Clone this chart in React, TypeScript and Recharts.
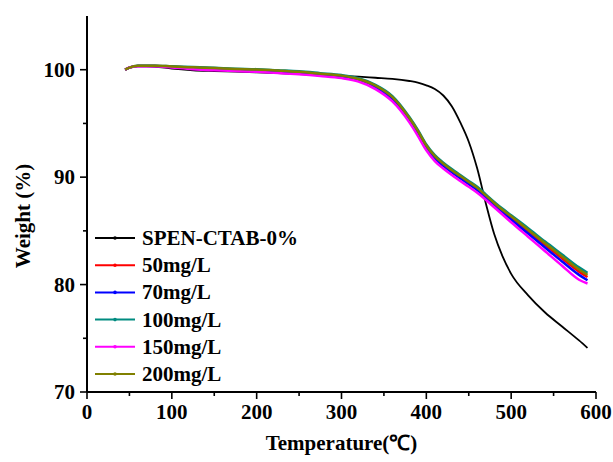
import React from "react";
import {
  LineChart,
  Line,
  XAxis,
  YAxis,
  Legend,
} from "recharts";

// TGA weight-loss curves, temperature in °C, weight in %
const temps = [
  45, 50, 60, 80, 100, 125, 150, 175, 200, 225, 250, 275, 300, 320, 340, 360,
  380, 390, 400, 410, 420, 430, 440, 450, 460, 470, 480, 490, 500, 520, 540,
  560, 580, 590,
];

const ctab0 = [
  100.0, 100.2, 100.35, 100.3, 100.1, 99.95, 99.88, 99.82, 99.75, 99.68, 99.6,
  99.5, 99.42, 99.35, 99.25, 99.15, 98.95, 98.8, 98.55, 98.2, 97.6, 96.6, 95.1,
  93.3, 90.8, 87.6, 84.7, 82.6, 81.0, 79.0, 77.4, 76.1, 74.8, 74.1,
];
const mg50 = [
  100.0, 100.2, 100.35, 100.35, 100.28, 100.2, 100.12, 100.03, 99.97, 99.87,
  99.75, 99.58, 99.4, 99.08, 98.45, 97.35, 95.4, 94.2, 92.85, 91.85, 91.15,
  90.55, 90.0, 89.45, 88.9, 88.2, 87.5, 86.85, 86.2, 84.95, 83.7, 82.45, 81.2,
  80.7,
];
const mg70 = [
  100.0, 100.2, 100.35, 100.35, 100.25, 100.15, 100.05, 99.97, 99.9, 99.8,
  99.68, 99.5, 99.32, 99.0, 98.35, 97.25, 95.3, 94.1, 92.75, 91.75, 91.05,
  90.45, 89.9, 89.35, 88.8, 88.1, 87.4, 86.7, 86.05, 84.75, 83.45, 82.15, 80.9,
  80.4,
];
const mg100 = [
  100.0, 100.2, 100.38, 100.38, 100.32, 100.25, 100.18, 100.1, 100.05, 99.95,
  99.85, 99.68, 99.5, 99.2, 98.6, 97.55, 95.6, 94.4, 93.05, 92.05, 91.35,
  90.75, 90.2, 89.65, 89.1, 88.4, 87.7, 87.05, 86.45, 85.25, 84.0, 82.8, 81.6,
  81.1,
];
const mg150 = [
  100.0, 100.2, 100.32, 100.32, 100.2, 100.05, 99.95, 99.87, 99.8, 99.7, 99.58,
  99.42, 99.22, 98.9, 98.2, 97.05, 95.1, 93.85, 92.5, 91.5, 90.8, 90.2, 89.65,
  89.1, 88.55, 87.9, 87.2, 86.5, 85.8, 84.45, 83.1, 81.75, 80.45, 80.1,
];
const mg200 = [
  100.0, 100.2, 100.38, 100.38, 100.3, 100.22, 100.15, 100.07, 100.02, 99.92,
  99.8, 99.63, 99.45, 99.13, 98.52, 97.45, 95.5, 94.3, 92.95, 91.95, 91.25,
  90.65, 90.1, 89.55, 89.0, 88.3, 87.6, 86.95, 86.35, 85.1, 83.85, 82.62, 81.4,
  80.9,
];

const xTicks = [0, 50, 100, 150, 200, 250, 300, 350, 400, 450, 500, 550, 600];
const yTicks = [70, 75, 80, 85, 90, 95, 100];

const SERIES = [
  { key: "ctab0", name: "SPEN-CTAB-0%", values: ctab0, color: "#000000", width: 1.8 },
  { key: "mg50", name: "50mg/L", values: mg50, color: "#ff0000", width: 2.5 },
  { key: "mg70", name: "70mg/L", values: mg70, color: "#0000ff", width: 2.5 },
  { key: "mg100", name: "100mg/L", values: mg100, color: "#008b80", width: 2.5 },
  { key: "mg150", name: "150mg/L", values: mg150, color: "#ff00ff", width: 2.5 },
  { key: "mg200", name: "200mg/L", values: mg200, color: "#808000", width: 2.5 },
];

const data = temps.map((t, i) => {
  const row: Record<string, number> = { t };
  SERIES.forEach((s) => {
    row[s.key] = s.values[i];
  });
  return row;
});

const FONT = '"Liberation Serif", "Times New Roman", serif';

function XTick(props: any) {
  const { x, y, payload } = props;
  const major = payload.value % 100 === 0;
  return (
    <g>
      <line x1={x} x2={x} y1={y} y2={y + (major ? 7 : 4)} stroke="#000" strokeWidth={1.6} />
      {major && (
        <text
          x={x}
          y={y + 27}
          textAnchor="middle"
          fontFamily={FONT}
          fontWeight="bold"
          fontSize={21}
          fill="#000"
        >
          {payload.value}
        </text>
      )}
    </g>
  );
}

function YTick(props: any) {
  const { x, y, payload } = props;
  const major = payload.value % 10 === 0;
  return (
    <g>
      <line x1={x - (major ? 7 : 4)} x2={x} y1={y} y2={y} stroke="#000" strokeWidth={1.6} />
      {major && (
        <text
          x={x - 12}
          y={y + 7}
          textAnchor="end"
          fontFamily={FONT}
          fontWeight="bold"
          fontSize={21}
          fill="#000"
        >
          {payload.value}
        </text>
      )}
    </g>
  );
}

function WeightLabel(props: any) {
  const { viewBox } = props;
  const cx = viewBox.x - 4;
  const cy = viewBox.y + viewBox.height / 2 + 12;
  return (
    <text
      x={cx}
      y={cy}
      transform={`rotate(-90 ${cx} ${cy})`}
      textAnchor="middle"
      dominantBaseline="central"
      fontFamily={FONT}
      fontWeight="bold"
      fontSize={21}
      fill="#000"
    >
      Weight (%)
    </text>
  );
}

function LegendBox() {
  return (
    <svg width={240} height={170}>
      {SERIES.map((s, i) => {
        const cy = 14 + i * 27.2;
        return (
          <g key={s.key}>
            <line x1={3} x2={43} y1={cy} y2={cy} stroke={s.color} strokeWidth={2} />
            <circle cx={23} cy={cy} r={1.8} fill={s.color} />
            <text
              x={50}
              y={cy + 7}
              fontFamily={FONT}
              fontWeight="bold"
              fontSize={21}
              fill="#000"
            >
              {s.name}
            </text>
          </g>
        );
      })}
    </svg>
  );
}

export default function App() {
  return (
    <div style={{ position: "absolute", left: 0, top: 0, background: "#fff" }}>
      <LineChart
        width={613}
        height={462}
        data={data}
        margin={{ top: 16, right: 17, bottom: 20, left: 27 }}
      >
        <XAxis
          xAxisId="b"
          dataKey="t"
          type="number"
          domain={[0, 600]}
          ticks={xTicks}
          tickLine={false}
          tickSize={0}
          tickMargin={0}
          tick={<XTick />}
          axisLine={{ stroke: "#000", strokeWidth: 2 }}
          height={50}
          interval={0}
          label={{
            value: "Temperature(℃)",
            position: "insideBottom",
            offset: -8,
            style: { fontFamily: FONT, fontWeight: "bold", fontSize: 21, fill: "#000" },
          }}
        />
        <XAxis
          xAxisId="top"
          dataKey="t"
          type="number"
          orientation="top"
          domain={[0, 600]}
          tick={false}
          tickLine={false}
          axisLine={{ stroke: "#000", strokeWidth: 2 }}
          height={0}
        />
        <YAxis
          yAxisId="l"
          type="number"
          domain={[70, 105]}
          ticks={yTicks}
          tickLine={false}
          tickSize={0}
          tickMargin={0}
          tick={<YTick />}
          axisLine={{ stroke: "#000", strokeWidth: 2 }}
          width={60}
          interval={0}
          label={<WeightLabel />}
        />
        <YAxis
          yAxisId="r"
          orientation="right"
          type="number"
          domain={[70, 105]}
          tick={false}
          tickLine={false}
          axisLine={{ stroke: "#000", strokeWidth: 2 }}
          width={0}
        />
        <Legend
          layout="horizontal"
          verticalAlign="middle"
          align="center"
          content={<LegendBox />}
          wrapperStyle={{ left: 92, top: 224, width: 240, height: 170 }}
        />
        {SERIES.map((s) => (
          <Line
            key={s.key}
            xAxisId="b"
            yAxisId="l"
            type="monotone"
            dataKey={s.key}
            name={s.name}
            stroke={s.color}
            strokeWidth={s.width}
            dot={false}
            isAnimationActive={false}
          />
        ))}
      </LineChart>
    </div>
  );
}
